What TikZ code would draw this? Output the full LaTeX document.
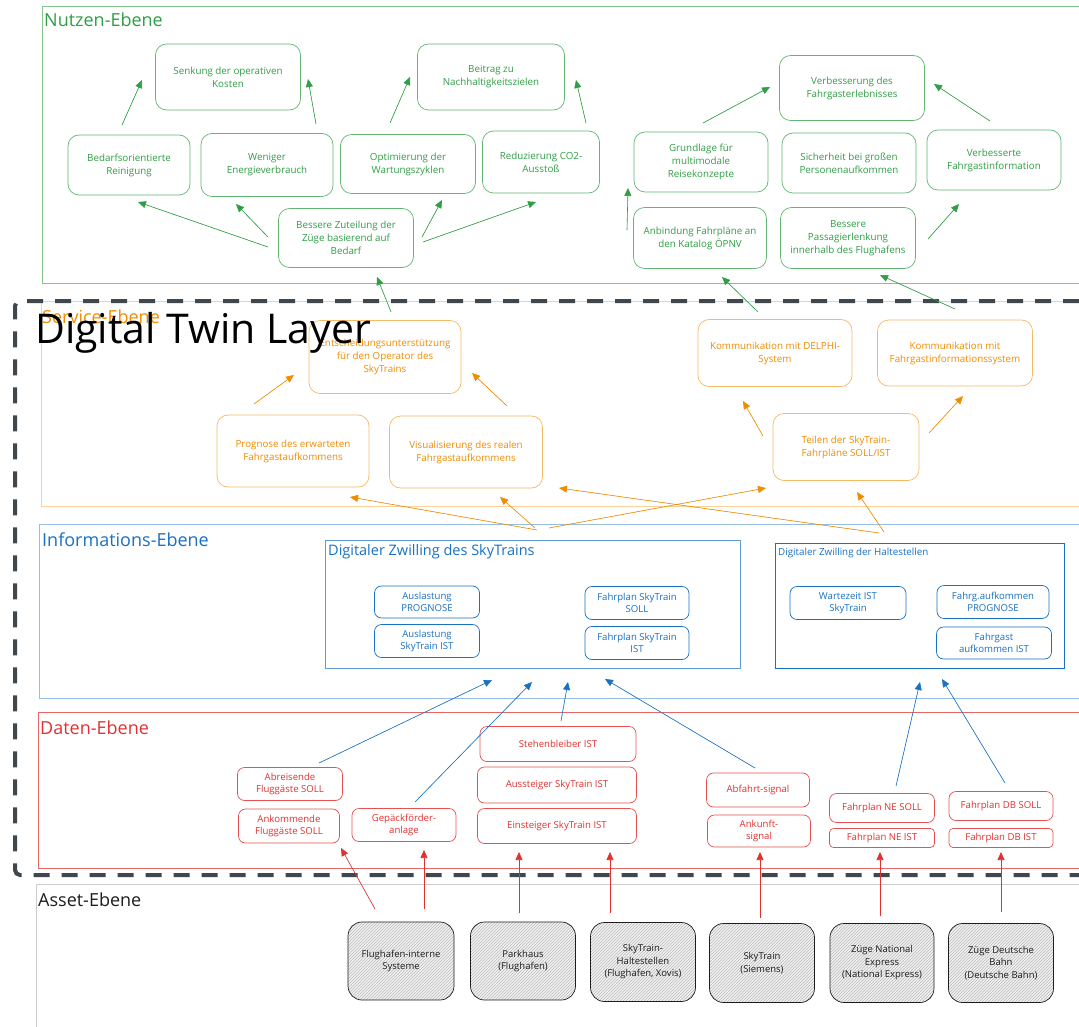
\documentclass[tikz,border=0pt]{standalone}
\usepackage{fontspec}
\setmainfont{Open Sans}
\newfontfamily\titlefont{Open Sans}
\usetikzlibrary{arrows.meta,patterns}
\definecolor{cg}{HTML}{2F9E44}
\definecolor{co}{HTML}{F08C00}
\definecolor{cb}{HTML}{1971C2}
\definecolor{cr}{HTML}{E03131}
\definecolor{ck}{HTML}{1E1E1E}
\definecolor{cdash}{HTML}{40474D}
\tikzset{
  layerline/.style={line width=0.8pt},
  ltitle/.style={anchor=west, inner sep=0pt, font=\fontsize{18}{20}\selectfont},
  nbox/.style={draw, rounded corners=11pt, align=center, inner sep=1pt, line width=0.7pt,
    font=\fontsize{9.8}{13}\selectfont},
  sbox/.style={draw, rounded corners=7pt, align=center, inner sep=1pt, line width=0.7pt,
    font=\fontsize{9.6}{12}\selectfont},
  gbox/.style={nbox, draw=cg!75, text=cg},
  obox/.style={nbox, draw=co!60, text=co},
  bbox/.style={sbox, draw=cb, text=cb},
  rbox/.style={sbox, draw=cr!85, text=cr},
  abox/.style={draw=ck, rounded corners=14pt, align=center, inner sep=1pt, line width=0.7pt,
    text=ck, font=\fontsize{9.5}{12.5}\selectfont,
    preaction={fill=gray!10}, pattern=north east lines, pattern color=gray!55},
  arrbase/.style={line width=0.6pt, -{Triangle[length=8pt,width=7pt]}},
  garr/.style={arrbase, draw=cg, fill=cg},
  oarr/.style={arrbase, draw=co, fill=co},
  barr/.style={arrbase, draw=cb, fill=cb},
  rarr/.style={arrbase, draw=cr, fill=cr},
}
\begin{document}
\begin{tikzpicture}[x=1pt,y=-1pt]
\useasboundingbox (0,0) rectangle (1079,1027);
\fill[white] (0,0) rectangle (1079,1027);

% ---------- layers ----------
\draw[layerline, draw=cg!60] (1079,6) -- (42,6) -- (42,283) -- (1079,283);
\draw[layerline, draw=co!40] (1079,301) -- (41,301) -- (41,506) -- (1079,506);
\draw[layerline, draw=cb!45] (1079,524) -- (39,524) -- (39,698) -- (1079,698);
\draw[layerline, draw=cr!75] (1079,712) -- (38,712) -- (38,868) -- (1079,868);
\draw[layerline, draw=gray!40] (1079,884) -- (36,884) -- (36,1027);

\node[ltitle, text=cg] (tnutz) at (44,20) {Nutzen-Ebene};
\node[ltitle, text=co] (tserv) at (42,317) {Service-Ebene};
\node[ltitle, text=cb] (tinfo) at (42,540) {Informations-Ebene};
\node[ltitle, text=cr] (tdat) at (40,728) {Daten-Ebene};
\node[ltitle, text=ck] (tass) at (38,900) {Asset-Ebene};

% ---------- dashed digital twin border ----------
\draw[cdash, line width=4pt, dash pattern=on 16pt off 12pt, rounded corners=5pt]
  (1079,301) -- (15,301) -- (15,875) -- (1079,875);

% ---------- Nutzen-Ebene ----------
\node[gbox, minimum width=145, minimum height=66] (senk) at (228,77) {Senkung der operativen\\Kosten};
\node[gbox, minimum width=147, minimum height=66] (beit) at (491,77) {Beitrag zu\\Nachhaltigkeitszielen};
\node[gbox, minimum width=145, minimum height=65] (verb) at (852,88) {Verbesserung des\\Fahrgasterlebnisses};
\node[gbox, minimum width=122, minimum height=60] (reig) at (129,165) {Bedarfsorientierte\\Reinigung};
\node[gbox, minimum width=132, minimum height=63] (wen) at (267,165) {Weniger\\Energieverbrauch};
\node[gbox, minimum width=135, minimum height=59] (opt) at (408,164) {Optimierung der\\Wartungszyklen};
\node[gbox, minimum width=117, minimum height=62] (redu) at (541,162) {Reduzierung CO2-\\Ausstoß};
\node[gbox, minimum width=134, minimum height=60] (grund) at (701,162) {Grundlage für\\multimodale\\Reisekonzepte};
\node[gbox, minimum width=134, minimum height=60] (sich) at (849,163) {Sicherheit bei großen\\Personenaufkommen};
\node[gbox, minimum width=134, minimum height=60] (vfi) at (994,160) {Verbesserte\\Fahrgastinformation};
\node[gbox, minimum width=135, minimum height=59] (bzt) at (346,238) {Bessere Zuteilung der\\Züge basierend auf\\Bedarf};
\node[gbox, minimum width=133, minimum height=61] (anb) at (700,238) {Anbindung Fahrpläne an\\den Katalog ÖPNV};
\node[gbox, minimum width=135, minimum height=61] (pas) at (848,238) {Bessere\\Passagierlenkung\\innerhalb des Flughafens};

% ---------- Service-Ebene ----------
\node[obox, minimum width=152, minimum height=73] (ent) at (385,357) {Entscheidungsunterstützung\\für den Operator des\\SkyTrains};
\node[obox, minimum width=152, minimum height=72] (prog) at (293,451) {Prognose des erwarteten\\Fahrgastaufkommens};
\node[obox, minimum width=153, minimum height=72] (vis) at (466,452) {Visualisierung des realen\\Fahrgastaufkommens};
\node[obox, minimum width=154, minimum height=67] (delphi) at (775,353) {Kommunikation mit DELPHI-\\System};
\node[obox, minimum width=155, minimum height=66] (fis) at (955,353) {Kommunikation mit\\Fahrgastinformationssystem};
\node[obox, minimum width=146, minimum height=67] (teil) at (846,447) {Teilen der SkyTrain-\\Fahrpläne SOLL/IST};

% ---------- Informations-Ebene ----------
\node[draw=cb!70, line width=0.8pt, minimum width=415, minimum height=128, inner sep=0pt] (dzs) at (532.5,604) {};
\node[anchor=west, inner sep=0pt, text=cb, font=\fontsize{14.5}{16}\selectfont] (dzst) at (328,552) {Digitaler Zwilling des SkyTrains};
\node[draw=cb, line width=0.8pt, minimum width=289, minimum height=125, inner sep=0pt] (dzh) at (919.5,605.5) {};
\node[anchor=west, inner sep=0pt, text=cb, font=\fontsize{9.8}{11}\selectfont] (dzht) at (778,553) {Digitaler Zwilling der Haltestellen};
\node[bbox, minimum width=105, minimum height=32] (ausp) at (427,602) {Auslastung\\PROGNOSE};
\node[bbox, minimum width=105, minimum height=33] (ausi) at (427,641) {Auslastung\\SkyTrain IST};
\node[bbox, minimum width=104, minimum height=33] (fps) at (637,603) {Fahrplan SkyTrain\\SOLL};
\node[bbox, minimum width=104, minimum height=33] (fpi) at (637,643) {Fahrplan SkyTrain\\IST};
\node[bbox, minimum width=116, minimum height=33] (wart) at (848,603) {Wartezeit IST\\SkyTrain};
\node[bbox, minimum width=112, minimum height=33] (fap) at (993,602) {Fahrg.aufkommen\\PROGNOSE};
\node[bbox, minimum width=115, minimum height=32] (fai) at (994,643) {Fahrgast\\aufkommen IST};

% ---------- Daten-Ebene ----------
\node[rbox, minimum width=105, minimum height=33] (abr) at (290,784) {Abreisende\\Fluggäste SOLL};
\node[rbox, minimum width=101, minimum height=34] (ank) at (289,826) {Ankommende\\Fluggäste SOLL};
\node[rbox, minimum width=104, minimum height=33] (gep) at (404,825) {Gepäckförder-\\anlage};
\node[rbox, minimum width=156, minimum height=35] (steh) at (558,744) {Stehenbleiber IST};
\node[rbox, minimum width=159, minimum height=36] (aus) at (557,785) {Aussteiger SkyTrain IST};
\node[rbox, minimum width=159, minimum height=35] (ein) at (557,826) {Einsteiger SkyTrain IST};
\node[rbox, minimum width=103, minimum height=34] (abf) at (758,790) {Abfahrt-signal};
\node[rbox, minimum width=103, minimum height=32] (anks) at (759,831) {Ankunft-\\signal};
\node[rbox, minimum width=105, minimum height=29] (nes) at (882,808) {Fahrplan NE SOLL};
\node[rbox, rounded corners=4pt, minimum width=105, minimum height=19] (nei) at (882,838) {Fahrplan NE IST};
\node[rbox, minimum width=104, minimum height=29] (dbs) at (1001,806) {Fahrplan DB SOLL};
\node[rbox, rounded corners=4pt, minimum width=104, minimum height=19] (dbi) at (1001,838) {Fahrplan DB IST};

% ---------- Asset-Ebene ----------
\node[abox, minimum width=106, minimum height=78] (fint) at (401,961) {Flughafen-interne\\Systeme};
\node[abox, minimum width=105, minimum height=78] (park) at (523,961) {Parkhaus\\(Flughafen)};
\node[abox, minimum width=105, minimum height=79] (hst) at (643,962) {SkyTrain-\\Haltestellen\\(Flughafen, Xovis)};
\node[abox, minimum width=105, minimum height=79] (sky) at (762,963) {SkyTrain\\(Siemens)};
\node[abox, minimum width=104, minimum height=79] (zne) at (882,963) {Züge National\\Express\\(National Express)};
\node[abox, minimum width=105, minimum height=79] (zdb) at (1001,963) {Züge Deutsche\\Bahn\\(Deutsche Bahn)};

% ---------- connectors ----------
\foreach \n/\xa/\ya/\xb/\yb in {
  ga/122/125/142/80, gb/316/124/308/79, gc/390/123/410/77, gd/586/123/576/80,
  ge/268/247/138/202, gf/268/237/236/204, gg/422/237/442/200, gh/423/242/536/202,
  gi/391/312/377/277, gj/703/123/770/87, gk/990/121/934/84, gl/627/230/628/188,
  gm/928/239/959/204, gn/758/312/722/277, go/955/309/880/275}{
  \coordinate (\n s) at (\xa,\ya); \coordinate (\n e) at (\xb,\yb);
  \draw[garr] (\n s) -- (\n e);
}
\foreach \n/\xa/\ya/\xb/\yb in {
  oa/254/404/294/375, ob/507/406/472/373, oc/763/436/743/401, od/929/433/963/396,
  oe/537/530/350/497, of/535/528/500/497, og/549/528/766/488, oh/879/533/559/488,
  oi/884/532/857/492}{
  \coordinate (\n s) at (\xa,\ya); \coordinate (\n e) at (\xb,\yb);
  \draw[oarr] (\n s) -- (\n e);
}
\foreach \n/\xa/\ya/\xb/\yb in {
  ba/319/763/492/680, bb/415/802/532/682, bc/561/721/568/682, bd/755/768/605/679,
  be/896/786/920/682, bf/1005/783/942/679}{
  \coordinate (\n s) at (\xa,\ya); \coordinate (\n e) at (\xb,\yb);
  \draw[barr] (\n s) -- (\n e);
}
\foreach \n/\xa/\ya/\xb/\yb in {
  ra/375/909/341/848, rb/424/909/424/850, rc/519/913/519/852, rd/610/913/610/852,
  re/760/918/760/852, rf/880/916/880/852, rg/1001/912/1001/852}{
  \coordinate (\n s) at (\xa,\ya); \coordinate (\n e) at (\xb,\yb);
  \draw[rarr] (\n s) -- (\n e);
}

% ---------- overlay title ----------
\node[anchor=west, inner sep=0pt, text=black, font=\titlefont\fontsize{41}{44}\selectfont] (dtl) at (35,333) {Digital Twin Layer};
\end{tikzpicture}
\end{document}
